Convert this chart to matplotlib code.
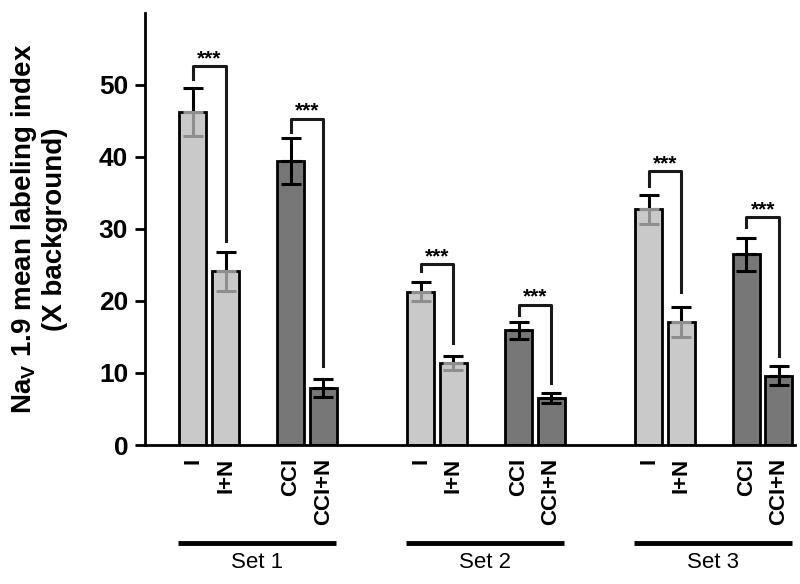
import matplotlib
matplotlib.use('Agg')
import matplotlib.pyplot as plt
import matplotlib.transforms as mtransforms
import numpy as np

plt.rcParams['font.family'] = ['Liberation Sans', 'DejaVu Sans']
plt.rcParams['mathtext.fontset'] = 'custom'
plt.rcParams['mathtext.rm'] = 'Liberation Sans'
plt.rcParams['mathtext.bf'] = 'Liberation Sans:bold'

sets = ['Set 1', 'Set 2', 'Set 3']
groups = ['I', 'I+N', 'CCI', 'CCI+N']
means = [46.2, 24.1, 39.4, 7.9,
         21.3, 11.4, 15.9, 6.5,
         32.7, 17.1, 26.5, 9.6]
errs = [3.3, 2.7, 3.2, 1.3,
        1.3, 1.0, 1.2, 0.7,
        2.0, 2.1, 2.3, 1.3]
# brackets: left bar, right bar, top, left leg end, right leg end
brackets = [(0, 1, 52.6, 50.8, 28.3), (2, 3, 45.3, 43.4, 10.9),
            (4, 5, 25.1, 24.1, 14.2), (6, 7, 19.5, 18.1, 8.6),
            (8, 9, 38.0, 35.9, 21.2), (10, 11, 31.6, 30.2, 12.3)]

light = '#c9c9c9'
dark = '#777777'

xpos = []
for s in range(len(sets)):
    for off in [0, 1, 3, 4]:
        xpos.append(7 * s + off)
xpos = np.array(xpos)
colors = [light, light, dark, dark] * 3

fig = plt.figure(figsize=(8, 5.84), dpi=100)
ax = fig.add_axes([0.181, 0.238, 0.813, 0.740])

ax.bar(xpos, means, width=0.83, color=colors, edgecolor='black', linewidth=2.0, zorder=2)
for x, m, e, c in zip(xpos, means, errs, colors):
    lo_col = '#8e8e8e' if c == light else 'black'
    ax.errorbar([x], [m], yerr=[[0], [e]], fmt='none', ecolor='black',
                elinewidth=2.2, capsize=7, capthick=2.2, zorder=3)
    ax.errorbar([x], [m], yerr=[[e], [0]], fmt='none', ecolor=lo_col,
                elinewidth=2.2, capsize=7, capthick=2.2, zorder=3)

for i, j, top, yl, yr in brackets:
    ax.plot([xpos[i], xpos[i], xpos[j], xpos[j]], [yl, top, top, yr],
            color='#1a1a1a', lw=2.2, solid_joinstyle='round', zorder=4)
    ax.text((xpos[i] + xpos[j]) / 2, top + 0.3, '***', ha='center', va='baseline',
            fontsize=15, fontweight='bold')

ax.set_xlim(-1.48, 18.5)
ax.set_ylim(0, 60)
ax.set_yticks([0, 10, 20, 30, 40, 50])
ax.tick_params(axis='y', direction='out', length=7, width=2.0, labelsize=19, pad=5)
for lab in ax.get_yticklabels():
    lab.set_fontweight('bold')
ax.set_xticks([])
for sp in ['top', 'right']:
    ax.spines[sp].set_visible(False)
ax.spines['left'].set_linewidth(2.0)
ax.spines['bottom'].set_linewidth(2.0)

trans = mtransforms.blended_transform_factory(ax.transData, ax.transAxes)
for k, x in enumerate(xpos):
    ax.text(x, -0.03, groups[k % 4], rotation=90, ha='center', va='top',
            fontsize=16, fontweight='bold', transform=trans)
for s, name in enumerate(sets):
    x0 = xpos[4 * s] - 0.45
    x1 = xpos[4 * s + 3] + 0.4
    ax.plot([x0, x1], [-0.227, -0.227], color='black', lw=3.5, transform=trans,
            clip_on=False, solid_capstyle='butt')
    ax.text((x0 + x1) / 2, -0.273, name, ha='center', va='center', fontsize=16,
            transform=trans)

fig.text(0.048, 1 - 229 / 584, 'Na$_\\mathbf{V}$ 1.9 mean labeling index\n(X background)',
         rotation=90, ha='center', va='center', fontsize=20, fontweight='bold',
         multialignment='center', linespacing=1.15)

fig.savefig('out.png', dpi=100)
